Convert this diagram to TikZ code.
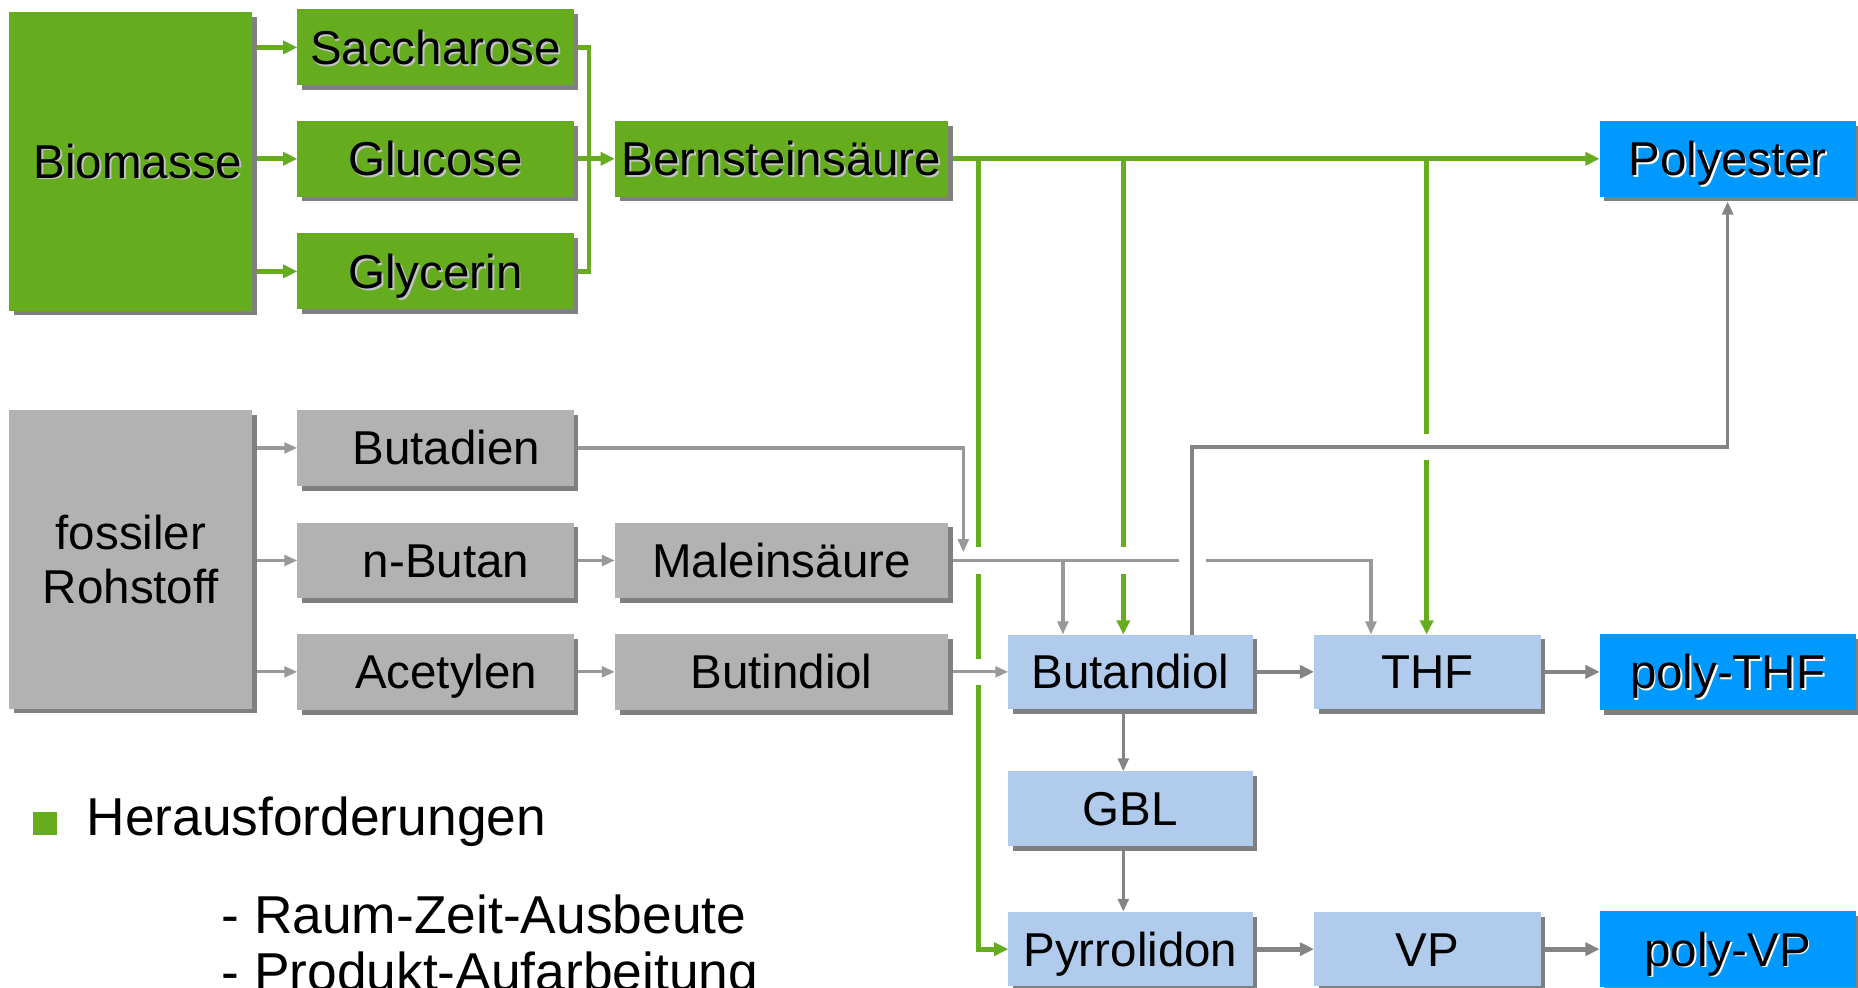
\documentclass[tikz,border=0pt]{standalone}
\usepackage{fontspec}
\setmainfont{Liberation Sans}
\usetikzlibrary{arrows.meta,shadows}
\definecolor{bgreen}{HTML}{65AC1E}
\definecolor{bgrey}{HTML}{B2B2B2}
\definecolor{shgrey}{HTML}{808080}
\definecolor{lblue}{HTML}{B0CBEB}
\definecolor{dblue}{HTML}{0099FF}
\definecolor{lgline}{HTML}{999999}
\definecolor{dgline}{HTML}{848484}
\definecolor{shg}{HTML}{C4C4C4}
\newcommand\txtsh[2]{\leavevmode\rlap{\kern0.015cm\raisebox{-0.015cm}{\color{#1}#2}}#2}
\begin{document}
\begin{tikzpicture}[x=0.01cm, y=-0.01cm,
 bx/.style={rectangle, inner sep=0pt, outer sep=0pt, font=\fontsize{11.4pt}{13pt}\selectfont, align=center,
   drop shadow={opacity=1, fill=shgrey, shadow xshift=0.04cm, shadow yshift=-0.04cm}},
 one/.style={text height=0.285cm, text depth=0cm},
 gbox/.style={bx, fill=bgreen},
 fbox/.style={bx, fill=bgrey},
 lbox/.style={bx, fill=lblue},
 pbox/.style={bx, fill=dblue},
 srcsize/.style={minimum width=2.05cm, minimum height=2.52cm},
 sidesize/.style={one, minimum width=2.33cm, minimum height=0.64cm},
 midsize/.style={one, minimum width=2.81cm, minimum height=0.64cm},
 bdosize/.style={one, minimum width=2.06cm, minimum height=0.63cm},
 thfsize/.style={one, minimum width=1.91cm, minimum height=0.63cm},
 prodsize/.style={one, minimum width=2.16cm, minimum height=0.64cm},
 gl/.style={draw=bgreen, line width=0.04cm},
 ga/.style={gl, -{Triangle[length=0.12cm, width=0.11cm]}},
 sl/.style={draw=lgline, line width=0.027cm},
 sa/.style={sl, -{Triangle[length=0.11cm, width=0.09cm]}},
 pl/.style={draw=dgline, line width=0.03cm},
 pa/.style={pl, -{Triangle[length=0.11cm, width=0.09cm]}},
 da/.style={draw=dgline, line width=0.04cm, -{Triangle[length=0.12cm, width=0.11cm]}},
 offs/.style={shorten <=0.04cm},
 txt/.style={inner sep=0pt, outer sep=0pt, anchor=base west, font=\fontsize{12.8pt}{15pt}\selectfont}
]
\useasboundingbox (0,0) rectangle (1568,833);

% green source chain
\node[gbox, srcsize, one] (bio) at (110.5,136) {\hspace*{0.12cm}\txtsh{shg}{Biomasse}};
\node[gbox, sidesize] (sac) at (367.5,40) {\txtsh{shg}{Saccharose}};
\node[gbox, sidesize] (glu) at (367.5,134) {\txtsh{shg}{Glucose}};
\node[gbox, sidesize] (gly) at (367.5,229) {\txtsh{shg}{Glycerin}};
\node[gbox, midsize] (bern) at (659.5,134) {\txtsh{shg}{Bernsteinsäure}};
\node[pbox, prodsize] (poly) at (1458,134) {\txtsh{white}{Polyester}};

% fossil chain
\node[fbox, srcsize] (fos) at (110.5,472) {fossiler\\Rohstoff};
\node[fbox, sidesize] (buta) at (367.5,378) {\hspace*{0.18cm}Butadien};
\node[fbox, sidesize] (nbut) at (367.5,473) {\hspace*{0.18cm}n-Butan};
\node[fbox, sidesize] (acet) at (367.5,567) {\hspace*{0.18cm}Acetylen};
\node[fbox, midsize] (mal) at (659.5,473) {Maleinsäure};
\node[fbox, midsize] (butin) at (659.5,567) {Butindiol};

% products
\node[lbox, bdosize] (bdo) at (954,567) {Butandiol};
\node[lbox, thfsize] (thf) at (1204.5,567) {THF};
\node[pbox, prodsize] (pthf) at (1458,567) {\txtsh{white}{poly-THF}};
\node[lbox, bdosize] (gbl) at (954,682.5) {GBL};
\node[lbox, bdosize] (pyr) at (954,801) {Pyrrolidon};
\node[lbox, thfsize] (vp) at (1204.5,801) {VP};
\node[pbox, prodsize] (pvp) at (1458,801) {\txtsh{white}{poly-VP}};

% text block
\node[fill=bgreen, inner sep=0pt, outer sep=0pt, minimum size=0.2cm] (bul) at (38,695) {};
\node[txt] (her) at (73,705) {Herausforderungen};
\node[txt] (rza) at (187,788) {- Raum-Zeit-Ausbeute};
\node[txt] (pa) at (187,836) {- Produkt-Aufarbeitung};

% green connectors
\draw[ga, offs] (bio.east |- sac.west) -- (sac.west);
\draw[ga, offs] (bio.east |- glu.west) -- (glu.west);
\draw[ga, offs] (bio.east |- gly.west) -- (gly.west);
\coordinate (brk) at (497,134);
\draw[gl, shorten <=0.04cm, shorten >=0.04cm] (sac.east) -| (brk) |- (gly.east);
\draw[ga, offs] (glu.east) -- (bern.west);
\draw[ga, offs] (bern.east) -- (poly.west);

\coordinate (v1a) at (826,134);
\coordinate (v1b) at (826,462);
\coordinate (v1c) at (826,484);
\coordinate (v1d) at (826,556);
\coordinate (v1e) at (826,578);
\draw[gl] (v1a) -- (v1b);
\draw[gl] (v1c) -- (v1d);
\draw[ga] (v1e) |- (pyr.west);

\coordinate (v2a) at (948,134);
\coordinate (v2b) at (948,462);
\coordinate (v2c) at (948,484);
\draw[gl] (v2a) -- (v2b);
\draw[ga] (v2c) -- (v2c |- bdo.north);

\coordinate (v3a) at (1204,134);
\coordinate (v3b) at (1204,366);
\coordinate (v3c) at (1204,388);
\draw[gl] (v3a) -- (v3b);
\draw[ga] (v3c) -- (v3c |- thf.north);

% grey connectors
\draw[sa, offs] (fos.east |- buta.west) -- (buta.west);
\draw[sa, offs] (fos.east |- nbut.west) -- (nbut.west);
\draw[sa, offs] (fos.east |- acet.west) -- (acet.west);
\coordinate (bd) at (813,466);
\draw[sa, offs] (buta.east) -| (bd);
\draw[sa, offs] (nbut.east) -- (mal.west);
\draw[sa, offs] (acet.east) -- (butin.west);
\draw[sa, offs] (butin.east) -- (bdo.west);
\coordinate (m1) at (995,473);
\coordinate (m2) at (1018,473);
\coordinate (m3) at (1157,473);
\coordinate (mb) at (897,473);
\draw[sl, offs] (mal.east) -- (m1);
\draw[sa] (m2) -| (m3 |- thf.north);
\draw[sa] (mb) -- (mb |- bdo.north);

\coordinate (p1) at (1006,377);
\draw[pa, shorten >=0.04cm] (p1 |- bdo.north) -- (p1) -| (poly.south);

\draw[da, offs] (bdo.east) -- (thf.west);
\draw[da, offs] (thf.east) -- (pthf.west);
\coordinate (b1) at (948,0);
\draw[pa, offs] (b1 |- bdo.south) -- (b1 |- gbl.north);
\draw[pa, offs] (b1 |- gbl.south) -- (b1 |- pyr.north);
\draw[da, offs] (pyr.east) -- (vp.west);
\draw[da, offs] (vp.east) -- (pvp.west);
\end{tikzpicture}
\end{document}
